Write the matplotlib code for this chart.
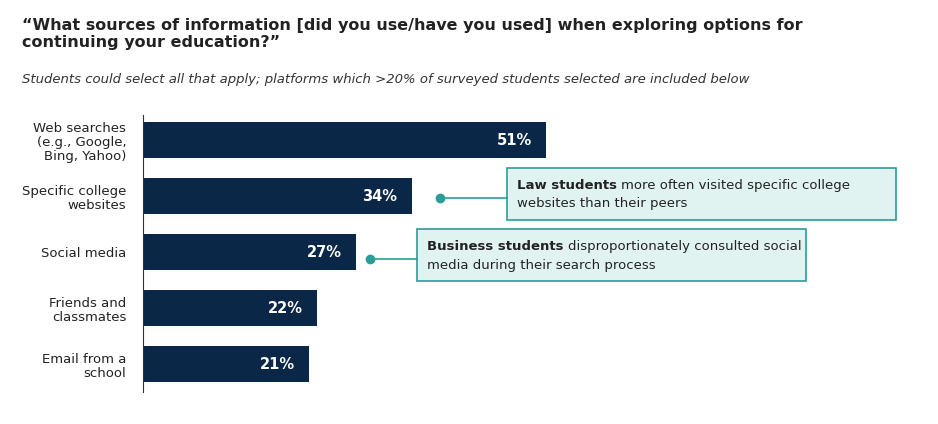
import matplotlib
matplotlib.use("Agg")
import matplotlib.pyplot as plt
from matplotlib.patches import Rectangle

labels = ["Web searches\n(e.g., Google,\nBing, Yahoo)", "Specific college\nwebsites", "Social media",
          "Friends and\nclassmates", "Email from a\nschool"]
values = [51, 34, 27, 22, 21]
navy = "#0b2747"
teal = "#2a9d98"

W, H = 938, 424
fig = plt.figure(figsize=(W/100, H/100), dpi=100)
ax = fig.add_axes([143/W, 1-392/H, 790/W, 277/H])
y = list(range(len(values)))
ax.barh(y, values, height=0.64, color=navy)
ax.set_ylim(4.5, -0.45)
ax.set_xlim(0, 100)
for i, v in enumerate(values):
    ax.text(v - 4, i, f"{v}%", color="white", fontweight="bold", fontsize=10.5, ha="center", va="center")
ax.set_yticks(y)
ax.set_yticklabels(labels, fontsize=9.5, color="#222222", linespacing=1.1)
ax.tick_params(axis="y", length=0, pad=12)
ax.set_xticks([])
for s in ["top", "right", "bottom"]:
    ax.spines[s].set_visible(False)
ax.spines["left"].set_color("#333333")
ax.spines["left"].set_linewidth(0.8)

fig.text(22/W, 1-34/H, "\u201cWhat sources of information [did you use/have you used] when exploring options for\ncontinuing your education?\u201d",
         fontsize=11.5, fontweight="bold", color="#222222", va="center", linespacing=1.15)
fig.text(22/W, 1-79/H, "Students could select all that apply; platforms which >20% of surveyed students selected are included below",
         fontsize=9.5, style="italic", color="#333333", va="center")

def callout(x0, y0, x1, y1, dot, bold, rest):
    fx = lambda px: px / W
    fy = lambda py: 1 - py / H
    fig.patches.append(Rectangle((fx(x0), fy(y1)), fx(x1-x0), (y1-y0)/H, transform=fig.transFigure,
                                 facecolor="#e1f3f1", edgecolor=teal, linewidth=1.2))
    ym = (y0 + y1) / 2
    fig.add_artist(plt.Line2D([fx(dot[0]), fx(x0)], [fy(dot[1]), fy(dot[1])], color=teal, lw=1.2,
                              transform=fig.transFigure))
    fig.add_artist(plt.Line2D([fx(dot[0])], [fy(dot[1])], marker="o", ms=6, color=teal,
                              transform=fig.transFigure))
    line1, line2 = rest
    t = fig.text(fx(x0+10), fy(y0+18), bold, fontsize=9.5, fontweight="bold", color="#222222", va="center")
    fig.canvas.draw()
    bb = t.get_window_extent()
    fig.text(fx(bb.x1 + 4), fy(y0+18), line1, fontsize=9.5, color="#222222", va="center")
    fig.text(fx(x0+10), fy(y0+36), line2, fontsize=9.5, color="#222222", va="center")

callout(507, 168, 896, 220, (440, 198), "Law students",
        ("more often visited specific college", "websites than their peers"))
callout(417, 229, 806, 281, (370, 259), "Business students",
        ("disproportionately consulted social", "media during their search process"))

fig.savefig("out.png", dpi=100, facecolor="white")
